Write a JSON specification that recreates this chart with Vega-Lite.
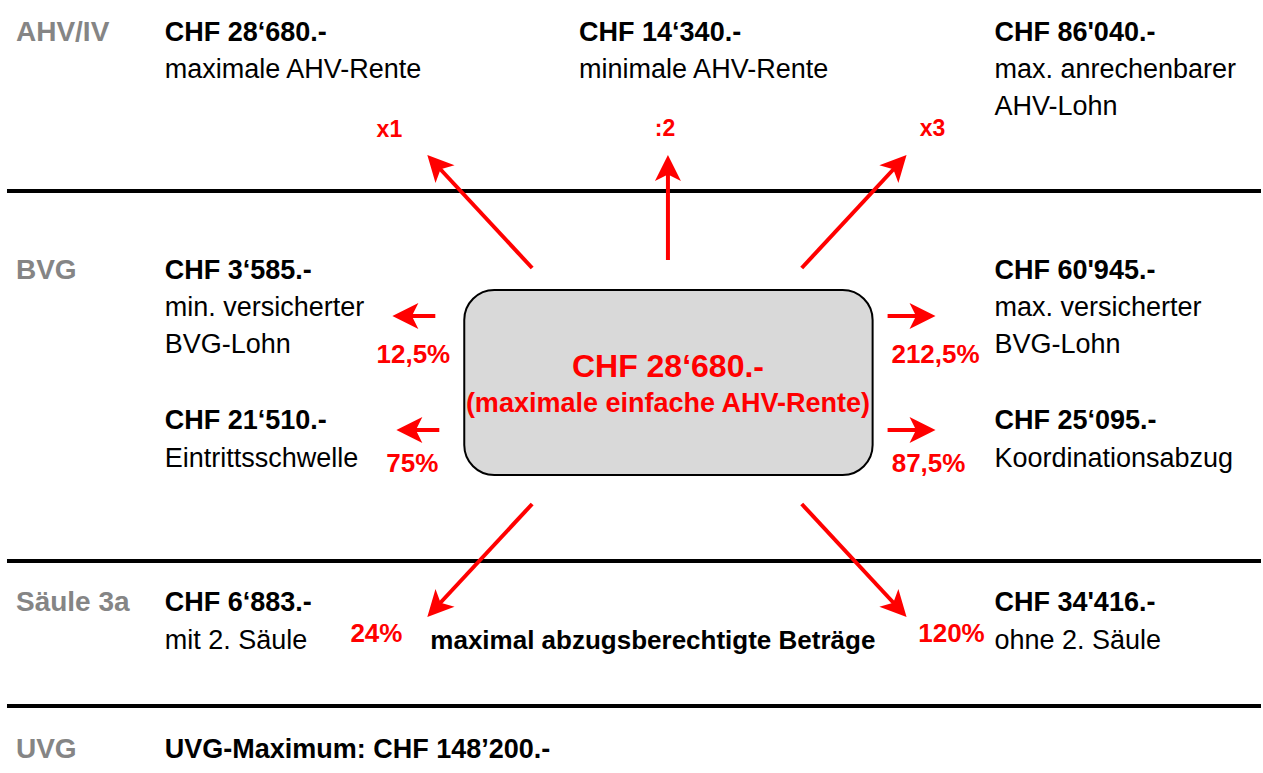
{
  "$schema": "https://vega.github.io/schema/vega-lite/v6.json",
  "width": 1263,
  "height": 773,
  "autosize": {"type": "fit", "contains": "padding"},
  "padding": 0,
  "background": "white",
  "config": {"view": {"stroke": null}, "font": "Liberation Sans"},
  "datasets": {
    "lines": [
      {"x": 7, "xe": 1263, "y": 191},
      {"x": 7, "xe": 1263, "y": 561},
      {"x": 7, "xe": 1263, "y": 706}
    ],
    "box": [
      {"x": 465, "xe": 874, "y": 290, "ye": 475}
    ],
    "arrows": [
      {"name": "x1", "x": 533, "y": 268, "xe": 439, "ye": 167, "tipx": 428, "tipy": 155, "angle": -42.9},
      {"name": ":2", "x": 669, "y": 260, "xe": 669, "ye": 171, "tipx": 669, "tipy": 155, "angle": 0},
      {"name": "x3", "x": 803, "y": 268, "xe": 897, "ye": 167, "tipx": 908, "tipy": 155, "angle": 42.9},
      {"name": "12,5%", "x": 436, "y": 316, "xe": 409, "ye": 316, "tipx": 393, "tipy": 316, "angle": -90},
      {"name": "75%", "x": 440, "y": 430, "xe": 413, "ye": 430, "tipx": 397, "tipy": 430, "angle": -90},
      {"name": "212,5%", "x": 889, "y": 316, "xe": 921, "ye": 316, "tipx": 937, "tipy": 316, "angle": 90},
      {"name": "87,5%", "x": 889, "y": 430, "xe": 921, "ye": 430, "tipx": 937, "tipy": 430, "angle": 90},
      {"name": "24%", "x": 533, "y": 504, "xe": 439, "ye": 605, "tipx": 428, "tipy": 617, "angle": -137.1},
      {"name": "120%", "x": 803, "y": 504, "xe": 897, "ye": 605, "tipx": 908, "tipy": 617, "angle": 137.1}
    ],
    "texts": [
      {"role": "section", "x": 16, "y": 41, "label": "AHV/IV"},
      {"role": "section", "x": 16, "y": 279, "label": "BVG"},
      {"role": "section", "x": 16, "y": 611, "label": "Säule 3a"},
      {"role": "section", "x": 16, "y": 758, "label": "UVG"},
      {"role": "amount", "x": 165, "y": 41, "label": "CHF 28‘680.-"},
      {"role": "amount", "x": 580, "y": 41, "label": "CHF 14‘340.-"},
      {"role": "amount", "x": 996, "y": 41, "label": "CHF 86'040.-"},
      {"role": "amount", "x": 165, "y": 279, "label": "CHF 3‘585.-"},
      {"role": "amount", "x": 996, "y": 279, "label": "CHF 60'945.-"},
      {"role": "amount", "x": 165, "y": 429, "label": "CHF 21‘510.-"},
      {"role": "amount", "x": 996, "y": 429, "label": "CHF 25‘095.-"},
      {"role": "amount", "x": 165, "y": 611, "label": "CHF 6‘883.-"},
      {"role": "amount", "x": 996, "y": 611, "label": "CHF 34'416.-"},
      {"role": "note", "x": 431, "y": 649, "label": "maximal abzugsberechtigte Beträge"},
      {"role": "amount", "x": 165, "y": 758, "label": "UVG-Maximum: CHF 148’200.-"},
      {"role": "desc", "x": 165, "y": 78, "label": "maximale AHV-Rente"},
      {"role": "desc", "x": 580, "y": 78, "label": "minimale AHV-Rente"},
      {"role": "desc", "x": 996, "y": 78, "label": "max. anrechenbarer"},
      {"role": "desc", "x": 996, "y": 115, "label": "AHV-Lohn"},
      {"role": "desc", "x": 165, "y": 316, "label": "min. versicherter"},
      {"role": "desc", "x": 165, "y": 353, "label": "BVG-Lohn"},
      {"role": "desc", "x": 996, "y": 316, "label": "max. versicherter"},
      {"role": "desc", "x": 996, "y": 353, "label": "BVG-Lohn"},
      {"role": "desc", "x": 165, "y": 467, "label": "Eintrittsschwelle"},
      {"role": "desc", "x": 996, "y": 467, "label": "Koordinationsabzug"},
      {"role": "desc", "x": 165, "y": 649, "label": "mit 2. Säule"},
      {"role": "desc", "x": 996, "y": 649, "label": "ohne 2. Säule"},
      {"role": "factor", "x": 390, "y": 137, "label": "x1"},
      {"role": "factor", "x": 666, "y": 136, "label": ":2"},
      {"role": "factor", "x": 934, "y": 136, "label": "x3"},
      {"role": "pct", "x": 414, "y": 363, "label": "12,5%"},
      {"role": "pct", "x": 413, "y": 472, "label": "75%"},
      {"role": "pct", "x": 937, "y": 363, "label": "212,5%"},
      {"role": "pct", "x": 930, "y": 472, "label": "87,5%"},
      {"role": "pct", "x": 377, "y": 642, "label": "24%"},
      {"role": "pct", "x": 953, "y": 642, "label": "120%"},
      {"role": "title", "x": 669, "y": 377, "label": "CHF 28‘680.-"},
      {"role": "subtitle", "x": 669, "y": 412, "label": "(maximale einfache AHV-Rente)"}
    ]
  },
  "layer": [
    {
      "data": {"name": "lines"},
      "mark": {"type": "rule", "color": "black", "strokeWidth": 4},
      "encoding": {
        "x": {"field": "x", "type": "quantitative", "scale": {"domain": [0, 1263], "nice": false, "zero": false}, "axis": null},
        "x2": {"field": "xe"},
        "y": {"field": "y", "type": "quantitative", "scale": {"domain": [0, 773], "reverse": true, "nice": false, "zero": false}, "axis": null}
      }
    },
    {
      "data": {"name": "box"},
      "mark": {"type": "rect", "fill": "#d9d9d9", "stroke": "black", "strokeWidth": 2, "cornerRadius": 30},
      "encoding": {
        "x": {"field": "x", "type": "quantitative"},
        "x2": {"field": "xe"},
        "y": {"field": "y", "type": "quantitative"},
        "y2": {"field": "ye"}
      }
    },
    {
      "data": {"name": "arrows"},
      "mark": {"type": "rule", "color": "#ff0000", "strokeWidth": 4},
      "encoding": {
        "x": {"field": "x", "type": "quantitative"},
        "x2": {"field": "xe"},
        "y": {"field": "y", "type": "quantitative"},
        "y2": {"field": "ye"}
      }
    },
    {
      "data": {"name": "arrows"},
      "mark": {"type": "point", "shape": "M0,0L1,2L0,1.5L-1,2Z", "filled": true, "fill": "#ff0000", "fillOpacity": 1, "strokeWidth": 0, "size": 676},
      "encoding": {
        "x": {"field": "tipx", "type": "quantitative"},
        "y": {"field": "tipy", "type": "quantitative"},
        "angle": {"field": "angle", "type": "quantitative", "scale": null}
      }
    },
    {
      "data": {"name": "texts"},
      "transform": [{"filter": "datum.role === 'section'"}],
      "mark": {"type": "text", "align": "left", "baseline": "alphabetic", "fontSize": 28, "fontWeight": "bold", "color": "#858585"},
      "encoding": {
        "x": {"field": "x", "type": "quantitative"},
        "y": {"field": "y", "type": "quantitative"},
        "text": {"field": "label"}
      }
    },
    {
      "data": {"name": "texts"},
      "transform": [{"filter": "datum.role === 'amount'"}],
      "mark": {"type": "text", "align": "left", "baseline": "alphabetic", "fontSize": 27, "fontWeight": "bold", "color": "black"},
      "encoding": {
        "x": {"field": "x", "type": "quantitative"},
        "y": {"field": "y", "type": "quantitative"},
        "text": {"field": "label"}
      }
    },
    {
      "data": {"name": "texts"},
      "transform": [{"filter": "datum.role === 'note'"}],
      "mark": {"type": "text", "align": "left", "baseline": "alphabetic", "fontSize": 26, "fontWeight": "bold", "color": "black"},
      "encoding": {
        "x": {"field": "x", "type": "quantitative"},
        "y": {"field": "y", "type": "quantitative"},
        "text": {"field": "label"}
      }
    },
    {
      "data": {"name": "texts"},
      "transform": [{"filter": "datum.role === 'desc'"}],
      "mark": {"type": "text", "align": "left", "baseline": "alphabetic", "fontSize": 27, "color": "black"},
      "encoding": {
        "x": {"field": "x", "type": "quantitative"},
        "y": {"field": "y", "type": "quantitative"},
        "text": {"field": "label"}
      }
    },
    {
      "data": {"name": "texts"},
      "transform": [{"filter": "datum.role === 'factor'"}],
      "mark": {"type": "text", "align": "center", "baseline": "alphabetic", "fontSize": 23, "fontWeight": "bold", "color": "#ff0000"},
      "encoding": {
        "x": {"field": "x", "type": "quantitative"},
        "y": {"field": "y", "type": "quantitative"},
        "text": {"field": "label"}
      }
    },
    {
      "data": {"name": "texts"},
      "transform": [{"filter": "datum.role === 'pct'"}],
      "mark": {"type": "text", "align": "center", "baseline": "alphabetic", "fontSize": 26, "fontWeight": "bold", "color": "#ff0000"},
      "encoding": {
        "x": {"field": "x", "type": "quantitative"},
        "y": {"field": "y", "type": "quantitative"},
        "text": {"field": "label"}
      }
    },
    {
      "data": {"name": "texts"},
      "transform": [{"filter": "datum.role === 'title'"}],
      "mark": {"type": "text", "align": "center", "baseline": "alphabetic", "fontSize": 32, "fontWeight": "bold", "color": "#ff0000"},
      "encoding": {
        "x": {"field": "x", "type": "quantitative"},
        "y": {"field": "y", "type": "quantitative"},
        "text": {"field": "label"}
      }
    },
    {
      "data": {"name": "texts"},
      "transform": [{"filter": "datum.role === 'subtitle'"}],
      "mark": {"type": "text", "align": "center", "baseline": "alphabetic", "fontSize": 27, "fontWeight": "bold", "color": "#ff0000"},
      "encoding": {
        "x": {"field": "x", "type": "quantitative"},
        "y": {"field": "y", "type": "quantitative"},
        "text": {"field": "label"}
      }
    }
  ]
}
